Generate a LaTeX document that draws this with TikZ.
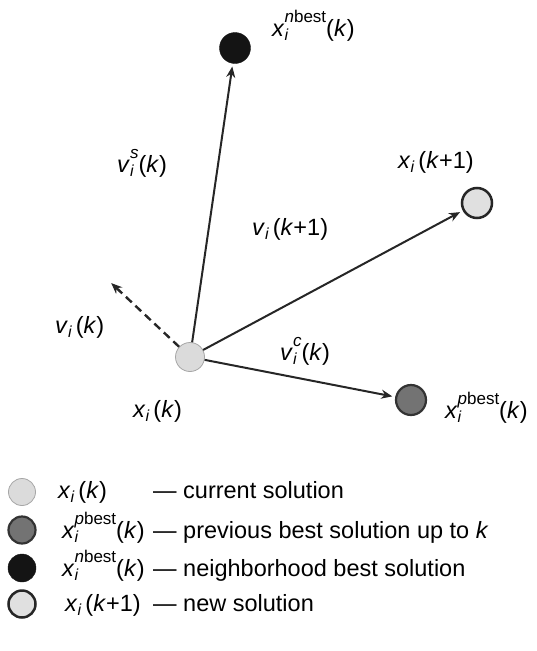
\documentclass[tikz,border=0pt]{standalone}
\usepackage{fontspec}
\setmainfont{Liberation Sans}
\usetikzlibrary{arrows.meta}
\newcommand{\xsub}[1]{\textit{#1}\raisebox{-4pt}{\fontsize{16}{16}\selectfont\textit{i}}}
\newcommand{\xsubsup}[2]{\textit{#1}\rlap{\raisebox{-4pt}{\fontsize{16}{16}\selectfont\textit{i}}}\raisebox{14pt}{\fontsize{17}{17}\selectfont #2}}

\begin{document}
\begin{tikzpicture}[x=1pt, y=-1pt, font=\fontsize{23.5}{27}\selectfont,
	sol/.style={circle, minimum size=30pt, inner sep=0pt},
	cur/.style={sol, fill=black!14, draw=black!35, line width=0.8pt},
	pbst/.style={sol, fill=black!55, draw=black!80, line width=2.2pt},
	nbst/.style={sol, fill=black!92, draw=black!92},
	newsol/.style={sol, fill=black!12, draw=black!85, line width=2.5pt},
	vec/.style={line width=2pt, draw=black!85, -{Stealth[length=11pt,width=9pt]}, shorten >=3pt},
	lbl/.style={anchor=base west, inner sep=0pt}]
			\useasboundingbox (0,0) rectangle (537,651);
			\node[cur, minimum size=29pt] (xk) at (190,357) {};
			\node[nbst, minimum size=31pt] (nbest) at (235,48) {};
			\node[newsol] (xnew) at (477,203) {};
			\node[pbst] (pbest) at (411,400) {};
			\coordinate (vk) at (109,281);
			\draw[vec] (xk) -- (nbest);
			\draw[vec] (xk) -- (xnew);
			\draw[vec] (xk) -- (pbest);
			\draw[vec, line width=2.4pt, dash pattern=on 8pt off 5pt] (xk) -- (vk);
			\node[lbl] (lnbest) at (272,36) {\xsubsup{x}{\textit{n}best}(\textit{k})};
			\node[lbl] (lvs) at (117,172) {\xsubsup{v}{\textit{s}}(\textit{k})};
			\node[lbl] (lxnew) at (398,168) {\xsub{x}\,(\textit{k}+1)};
			\node[lbl] (lvnew) at (252,235) {\xsub{v}\,(\textit{k}+1)};
			\node[lbl] (lvk) at (55,333) {\xsub{v}\,(\textit{k})};
			\node[lbl] (lvc) at (280,360) {\xsubsup{v}{\textit{c}}(\textit{k})};
			\node[lbl] (lxk) at (133,417) {\xsub{x}\,(\textit{k})};
			\node[lbl] (lpbest) at (445,418) {\xsubsup{x}{\textit{p}best}(\textit{k})};
			\node[cur, minimum size=27pt] (k1) at (22,492) {};
			\node[pbst, minimum size=27pt] (k2) at (22,530) {};
			\node[nbst, minimum size=28pt] (k3) at (22,568) {};
			\node[newsol, minimum size=27pt] (k4) at (22,604) {};
			\node[lbl] (s1) at (58,498) {\xsub{x}\,(\textit{k})};
			\node[lbl] (s2) at (62,538) {\xsubsup{x}{\textit{p}best}(\textit{k})};
			\node[lbl] (s3) at (62,576) {\xsubsup{x}{\textit{n}best}(\textit{k})};
			\node[lbl] (s4) at (65,611) {\xsub{x}\,(\textit{k}+1)};
			\node[lbl] (t1) at (153,498) {— current solution};
			\node[lbl] (t2) at (153,538) {— previous best solution up to \textit{k}};
			\node[lbl] (t3) at (153,576) {— neighborhood best solution};
			\node[lbl] (t4) at (153,611) {— new solution};
\end{tikzpicture}
\end{document}
